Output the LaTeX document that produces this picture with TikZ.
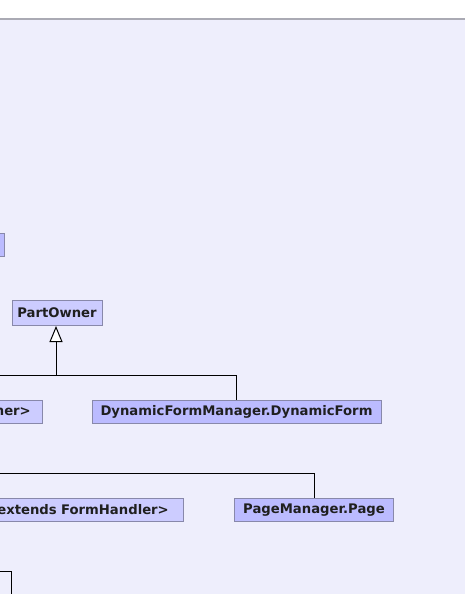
\documentclass[tikz,border=0pt]{standalone}
\usepackage{fontspec}
\setmainfont{DejaVu Sans}
\usetikzlibrary{arrows.meta}
\definecolor{bgc}{RGB}{238,238,252}
\definecolor{lightbox}{RGB}{204,204,255}
\definecolor{darkbox}{RGB}{187,187,255}
\definecolor{boxedge}{RGB}{136,136,170}
\definecolor{topline}{RGB}{170,170,180}
\tikzset{
  cls/.style={draw=boxedge, line width=1pt, fill=lightbox, inner sep=0pt,
    font=\fontsize{13.2}{15}\selectfont\bfseries, text=black!88},
  clsdark/.style={cls, fill=darkbox},
  link/.style={draw=black, line width=0.9pt},
  inh/.style={link, -{Triangle[fill=white, length=16pt, width=13pt, line width=1pt]}},
}
\begin{document}
\begin{tikzpicture}[x=1pt, y=-1pt]
  \useasboundingbox (0,0) rectangle (465,594);
  \clip (0,0) rectangle (465,594);
  \fill[white] (0,0) rectangle (465,19);
  \fill[bgc] (0,19) rectangle (465,594);
  \draw[topline, line width=1.2pt] (0,19) -- (465,19);

  \node[clsdark, minimum width=50pt, minimum height=23pt] (top) at (-21,244.5) {};
  \node[cls, minimum width=90pt, minimum height=25pt] (partowner) at (57,313) {PartOwner};
  \node[cls, anchor=east, text width=60pt, align=right, inner xsep=11.7pt, minimum height=23pt] (ner) at (43,411.5) {ner>};
  \node[clsdark, minimum width=289pt, minimum height=23pt] (dynform) at (236.5,411.5) {DynamicFormManager.DynamicForm};
  \node[cls, anchor=east, text width=190pt, align=right, inner xsep=14.7pt, minimum height=23.5pt] (handler) at (184,509.8) {extends FormHandler>};
  \node[clsdark, minimum width=159.4pt, minimum height=23.5pt] (page) at (314,509.8) {PageManager.Page};

  \coordinate (j1) at (56,375);
  \coordinate (l1) at (-5,375);
  \coordinate (c1) at (dynform.north |- j1);
  \draw[inh] (j1) -- (j1 |- partowner.south);
  \draw[link] (l1) -- (c1) -- (dynform.north);

  \coordinate (l2) at (-5,473.3);
  \coordinate (c2) at (page.north |- l2);
  \draw[link] (l2) -- (c2) -- (page.north);

  \coordinate (l3) at (-5,571);
  \coordinate (c3) at (11.7,571);
  \coordinate (b3) at (11.7,600);
  \draw[link] (l3) -- (c3) -- (b3);
\end{tikzpicture}
\end{document}
